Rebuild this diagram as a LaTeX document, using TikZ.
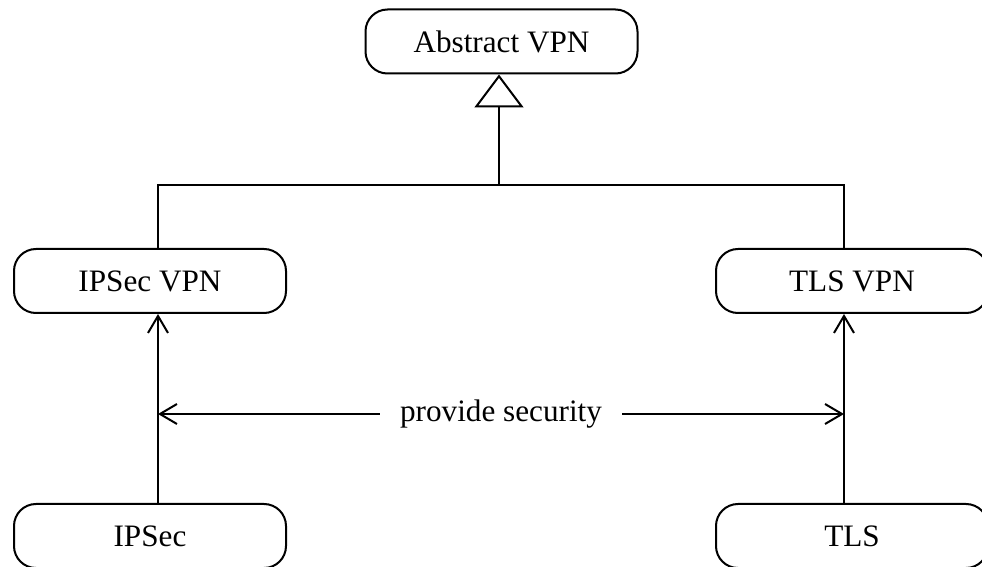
\documentclass[tikz,border=0pt]{standalone}
\usepackage{fontspec}
\setmainfont{Liberation Serif}
\usetikzlibrary{arrows.meta}
\tikzset{
  umlbox/.style={draw, rounded corners=11pt, minimum width=136pt, minimum height=32pt,
    line width=1pt, inner sep=0pt, font=\fontsize{15.6}{18}\selectfont},
  link/.style={line width=1pt},
  uses/.style={link, -{Straight Barb[length=8.5pt,width=10pt,line width=1pt]}},
  inherits/.style={link, -{Triangle[open,length=16.5pt,width=24.5pt,line width=1pt]}},
  tag/.style={fill=white, inner xsep=10pt, inner ysep=2pt, font=\fontsize{15.6}{18}\selectfont}
}
\begin{document}
\begin{tikzpicture}[x=0.5pt, y=-0.5pt]
  \useasboundingbox (0,0) rectangle (982,567);

  % classes
  \node[umlbox] (abstract) at (501.5,41.5) {Abstract VPN};
  \node[umlbox] (ipsecvpn) at (150,281) {IPSec VPN};
  \node[umlbox] (tlsvpn)   at (852,281) {TLS VPN};
  \node[umlbox] (ipsec)    at (150,536) {IPSec};
  \node[umlbox] (tls)      at (852,536) {TLS};

  % connector guides
  \coordinate (L) at (158,0);
  \coordinate (R) at (844,0);
  \coordinate (J) at (499,185);
  \coordinate (M) at (0,414);

  % generalisation tree
  \draw[link] (ipsecvpn.north -| L) |- (J) -| (tlsvpn.north -| R);
  \draw[inherits] (J) -- (J |- abstract.south);

  % dependencies
  \draw[uses] (L |- ipsec.north) -- (L |- ipsecvpn.south);
  \draw[uses] (R |- tls.north) -- (R |- tlsvpn.south);

  % association between the two protocols
  \draw[link, {Straight Barb[length=8.5pt,width=10pt,line width=1pt]}-{Straight Barb[length=8.5pt,width=10pt,line width=1pt]}]
    (L |- M) -- (R |- M) node[midway, tag] {provide security};
\end{tikzpicture}
\end{document}
